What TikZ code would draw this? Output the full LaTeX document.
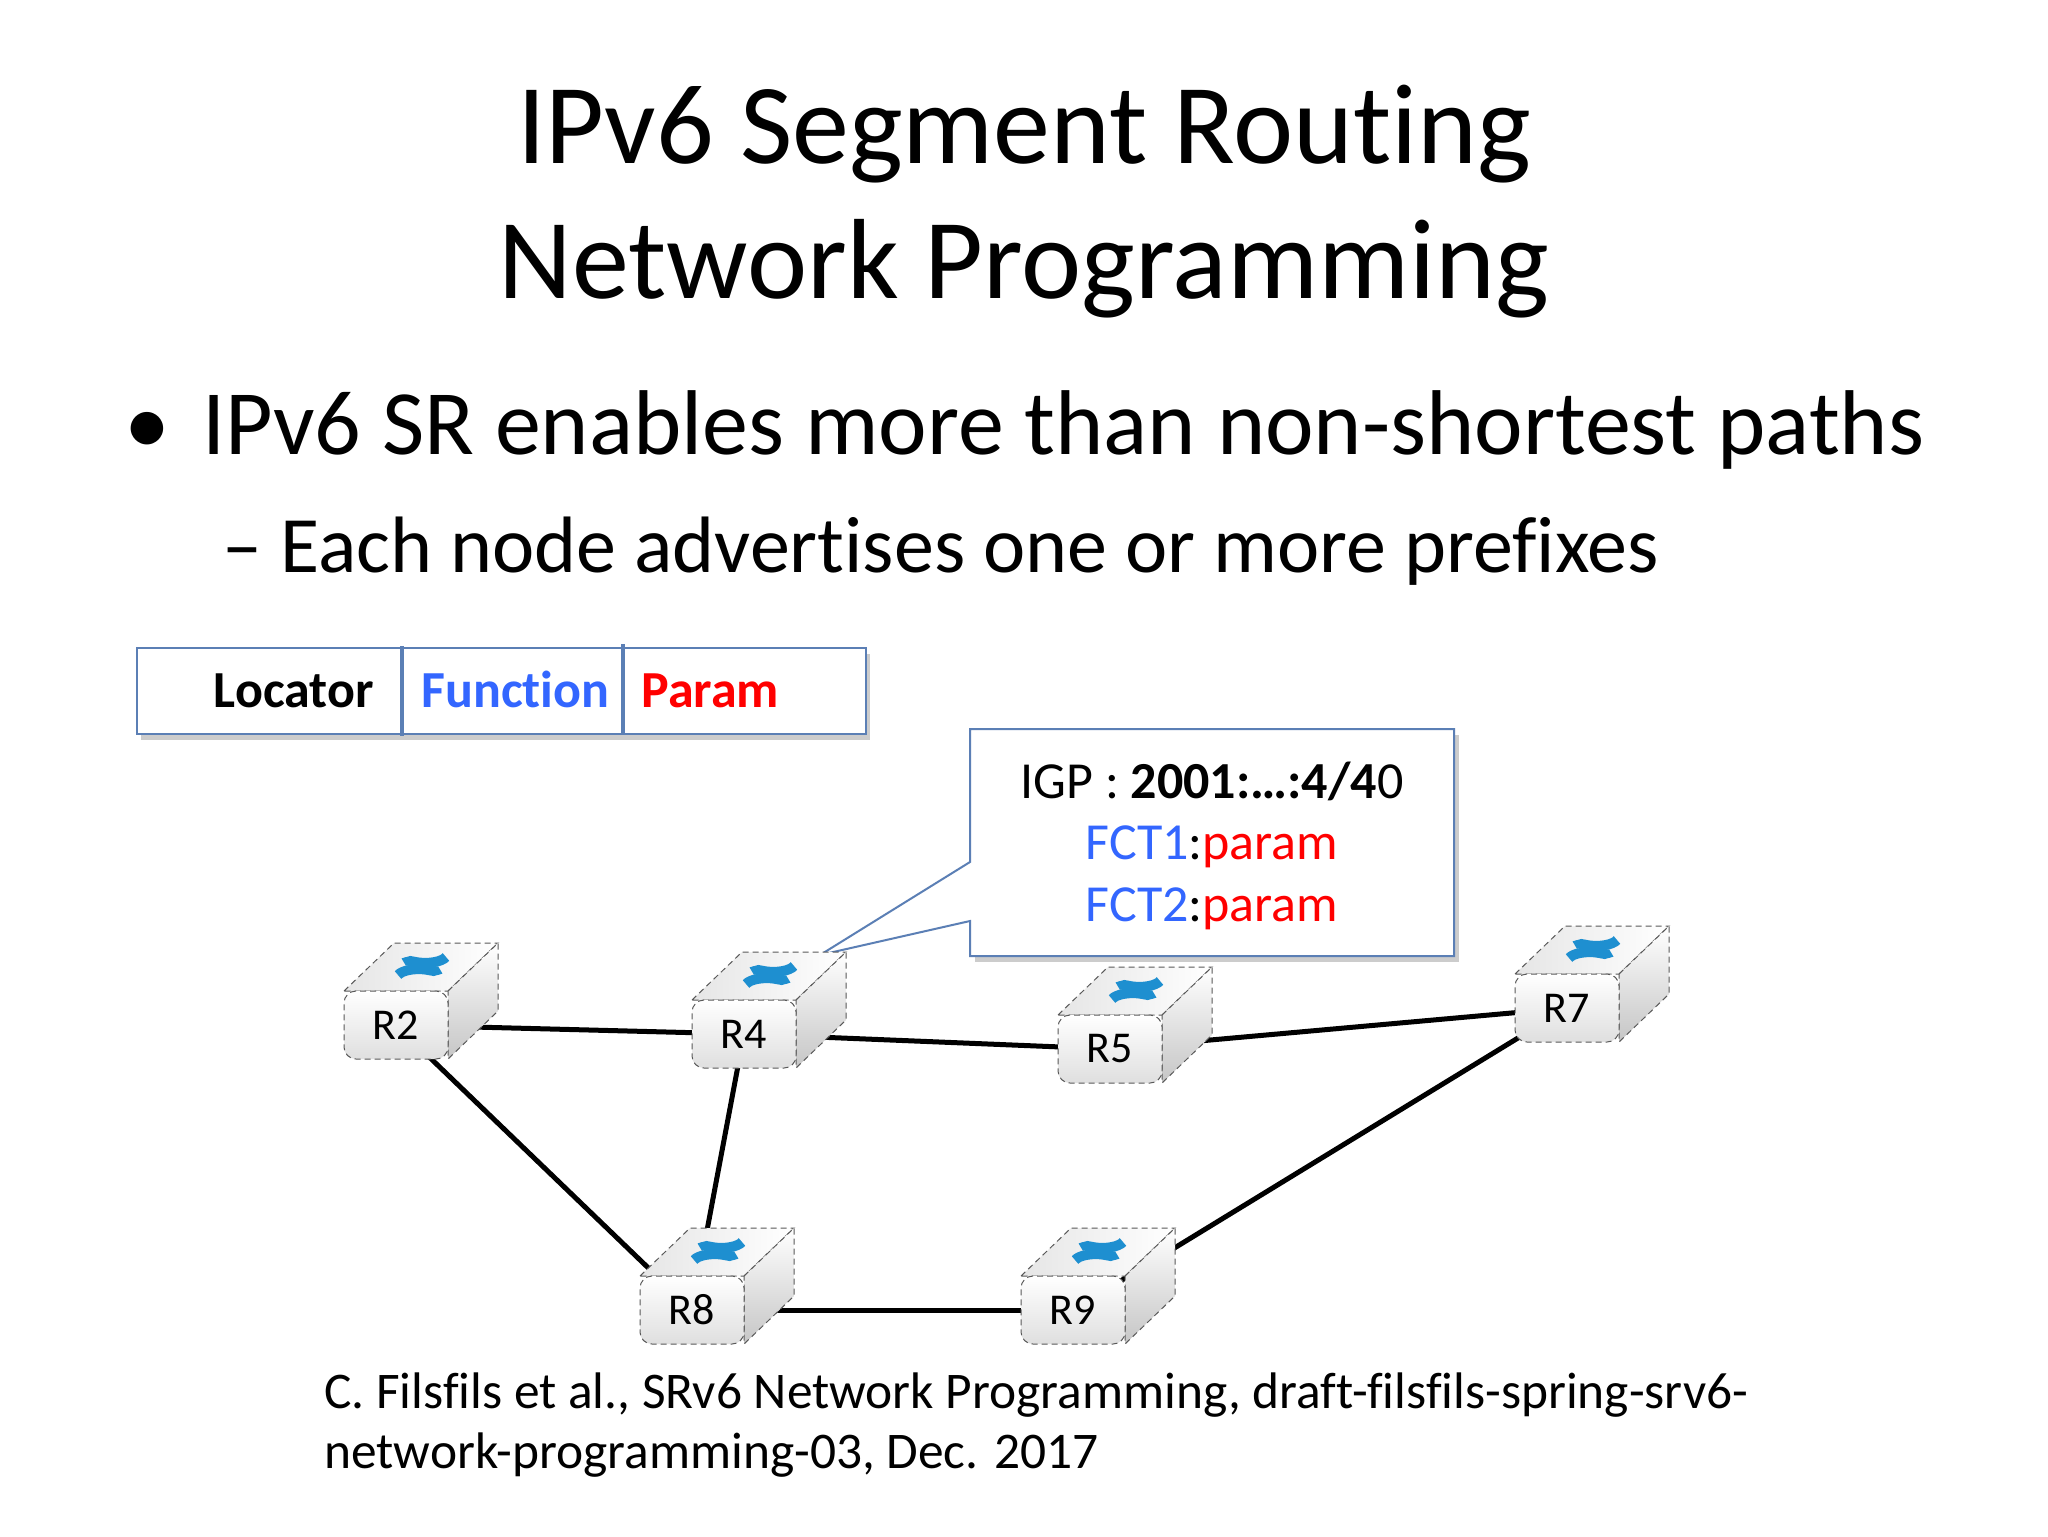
\documentclass[tikz,border=0pt]{standalone}
\usepackage{fontspec}
\setmainfont[Ligatures={NoCommon}]{Carlito}
\usetikzlibrary{arrows.meta}
\definecolor{fctblue}{HTML}{3366FF}
\definecolor{parred}{HTML}{FF0000}
\definecolor{boxedge}{HTML}{5B7FB5}
\definecolor{logoblue}{HTML}{1E8FD0}
\tikzset{
  fs/.style={font=\fontsize{#1}{#1}\selectfont},
  link/.style={line width=2.5pt,black},
  edgedash/.style={draw=gray!70!black,densely dashed,line width=0.5pt},
  frontface/.style={rectangle,rounded corners=6pt,minimum width=52pt,minimum height=34pt,
     top color=white,bottom color=gray!25,edgedash,inner sep=0pt,fs=22},
}
\newcommand\myrouter[3]{%
 \begin{scope}[shift={(#2,#3)}]
  \shade[edgedash,left color=gray!20,right color=white] (-52,-34) -- (-2,-82) -- (102,-82) -- (52,-34) -- cycle;
  \shade[edgedash,top color=white,bottom color=gray!45] (52,-34) -- (102,-82) -- (102,-14) -- (52,34) -- cycle;
  \draw[logoblue,line width=5pt,-{Stealth[length=7pt]}] (2,-50) arc[start angle=200,end angle=340,x radius=22,y radius=9];
  \draw[logoblue,line width=5pt,-{Stealth[length=7pt]}] (50,-68) arc[start angle=20,end angle=160,x radius=22,y radius=9];
  \node[frontface] (#1) at (0,0) {#1};
 \end{scope}}
\begin{document}
\begin{tikzpicture}[x=0.5pt,y=-0.5pt]
\useasboundingbox[fill=white] (0,0) rectangle (2048,1536);
% title
\node[fs=57,anchor=base] (t1) at (1024,163) {IPv6 Segment Routing};
\node[fs=57,anchor=base] (t2) at (1024,298) {Network Programming};
\node[fs=46,anchor=base west,inner sep=0pt] (dot) at (124,454) {•};
\node[fs=46,anchor=base west,inner sep=0pt] (b1) at (202,454) {IPv6 SR enables more than non-shortest paths};
\node[fs=40,anchor=base west,inner sep=0pt] (b2) at (222,572) {– Each node advertises one or more prefixes};
% locator box
\fill[gray!40] (141,654) rectangle (870,740);
\draw[boxedge,line width=1pt,fill=white] (137,648) rectangle (866,734);
\draw[boxedge,line width=2pt] (402,646) -- (402,736) (623,644) -- (623,734);
\node[fs=26,anchor=base east,inner sep=0pt] (loc) at (374,707) {\bfseries Locator};
\node[fs=26,anchor=base west,inner sep=0pt,text=fctblue] (fun) at (421,707) {\bfseries Function};
\node[fs=26,anchor=base west,inner sep=0pt,text=parred] (par) at (641,707) {\bfseries Param};
% callout
\fill[gray!40] (975,735) rectangle (1459,962);
\draw[boxedge,line width=1pt,fill=white] (970,729) -- (1454,729) -- (1454,956) -- (970,956) -- (970,921) -- (820,955) -- (970,862) -- cycle;
\node[fs=26,anchor=base] (c1) at (1212,798) {IGP : \textbf{2001:…:4/4}0};
\node[fs=26,anchor=base] (c2) at (1212,859) {\textcolor{fctblue}{FCT1}:\textcolor{parred}{param}};
\node[fs=26,anchor=base] (c3) at (1212,921) {\textcolor{fctblue}{FCT2}:\textcolor{parred}{param}};
% links
\coordinate (p2) at (396,1025);
\coordinate (p4) at (744,1034);
\coordinate (p5) at (1110,1049);
\coordinate (p7) at (1567,1008);
\coordinate (p8) at (692,1310);
\coordinate (p9) at (1073,1310);
\draw[link] (p2) -- (p4);
\draw[link] (p4) -- (p5);
\draw[link] (p5) -- (p7);
\draw[link] (p2) -- (p8);
\draw[link] (p4) -- (p8);
\draw[link] (p8) -- (p9);
\draw[link] (p9) -- (p7);
% routers
\myrouter{R2}{396}{1025}
\myrouter{R7}{1567}{1008}
\myrouter{R4}{744}{1034}
\myrouter{R5}{1110}{1049}
\myrouter{R8}{692}{1310}
\myrouter{R9}{1073}{1310}
% citation
\node[fs=25.7,anchor=base west,inner sep=0pt] (ref1) at (324,1408) {C. Filsfils et al., SRv6 Network Programming, draft-filsfils-spring-srv6-};
\node[fs=25.7,anchor=base west,inner sep=0pt] (ref2) at (324,1468) {network-programming-03, Dec. 2017};
\end{tikzpicture}
\end{document}
